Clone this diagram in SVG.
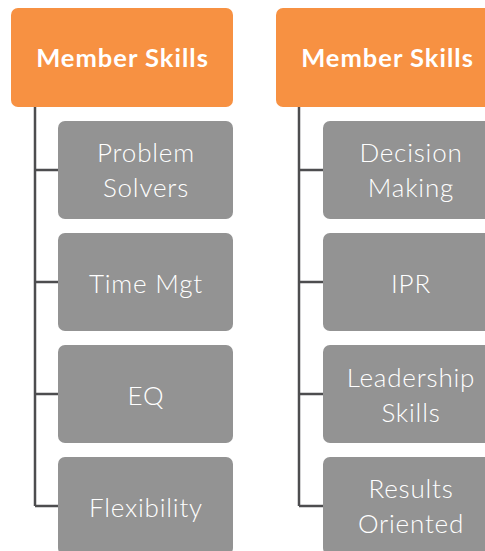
<svg xmlns="http://www.w3.org/2000/svg" width="485" height="551" viewBox="0 0 485 551">
<style>
.head{fill:#F79142;}
.item{fill:#939393;}
.ht{font-family:Lato,"Open Sans",sans-serif;font-weight:700;font-size:25.5px;letter-spacing:1px;fill:#FFFFFF;text-anchor:middle;}
.it{font-family:Lato,"Open Sans",sans-serif;font-weight:300;font-size:26px;letter-spacing:0.8px;fill:#FFFFFF;text-anchor:middle;}
.conn{fill:none;stroke:#4D4D4F;stroke-width:2.5;}
</style>
<rect width="485" height="551" fill="#FFFFFF"/>
<g id="connectors">
<path class="conn" d="M35,107 V506 M35,170 H58 M35,282 H58 M35,394 H58 M35,506 H58"/>
<path class="conn" d="M299,107 V506 M299,170 H323 M299,282 H323 M299,394 H323 M299,506 H323"/>
</g>
<g id="head-left"><rect class="head" x="11" y="8" width="222" height="99" rx="7"/><text class="ht" x="122.5" y="67">Member Skills</text></g>
<g id="head-right"><rect class="head" x="276" y="8" width="222" height="99" rx="7"/><text class="ht" x="387.5" y="67">Member Skills</text></g>
<g id="problem-solvers"><rect class="item" x="58" y="121" width="175" height="98" rx="7"/><text class="it" x="146" y="162">Problem</text><text class="it" x="146" y="197">Solvers</text></g>
<g id="time-mgt"><rect class="item" x="58" y="233" width="175" height="98" rx="7"/><text class="it" x="146" y="293">Time Mgt</text></g>
<g id="eq"><rect class="item" x="58" y="345" width="175" height="98" rx="7"/><text class="it" x="146" y="405">EQ</text></g>
<g id="flexibility"><rect class="item" x="58" y="457" width="175" height="98" rx="7"/><text class="it" x="146" y="517">Flexibility</text></g>
<g id="decision-making"><rect class="item" x="323" y="121" width="175" height="98" rx="7"/><text class="it" x="411" y="162">Decision</text><text class="it" x="411" y="197">Making</text></g>
<g id="ipr"><rect class="item" x="323" y="233" width="175" height="98" rx="7"/><text class="it" x="411" y="293">IPR</text></g>
<g id="leadership-skills"><rect class="item" x="323" y="345" width="175" height="98" rx="7"/><text class="it" x="411" y="387">Leadership</text><text class="it" x="411" y="422">Skills</text></g>
<g id="results-oriented"><rect class="item" x="323" y="457" width="175" height="98" rx="7"/><text class="it" x="411" y="498">Results</text><text class="it" x="411" y="533">Oriented</text></g>
</svg>
